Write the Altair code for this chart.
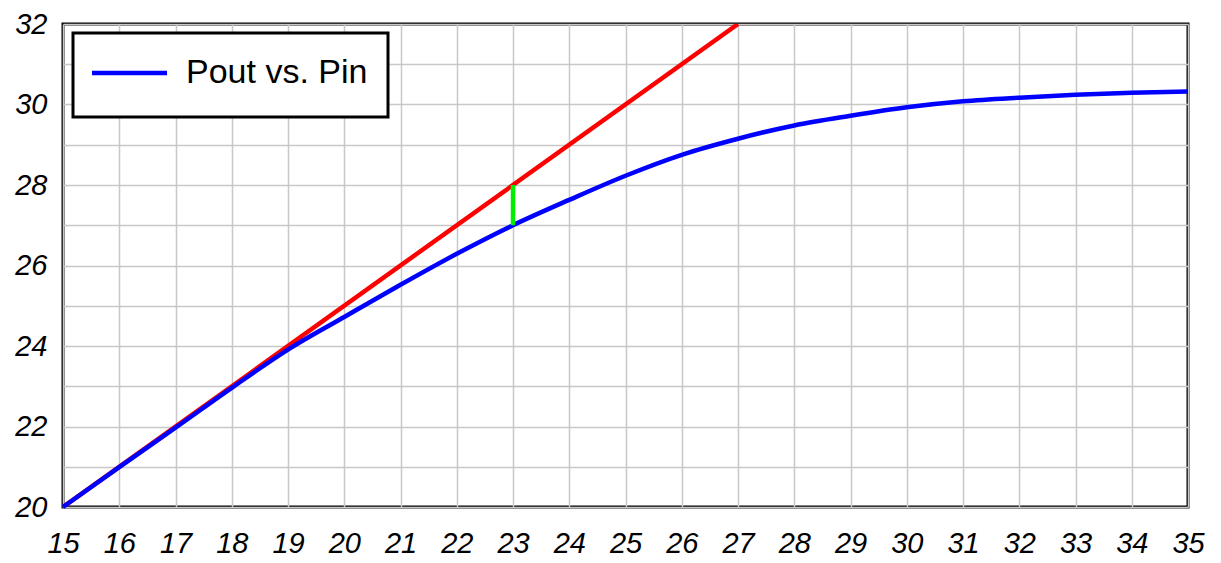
import altair as alt
import pandas as pd

# Measured curve (Pout vs. Pin)
pin = [15, 16, 17, 18, 19, 20, 21, 22, 23, 24, 25, 26, 27, 28, 29, 30, 31, 32, 33, 34, 35]
pout = [20.0, 20.99, 21.97, 22.96, 23.91, 24.72, 25.52, 26.29, 27.0, 27.63, 28.23, 28.75,
        29.15, 29.48, 29.72, 29.93, 30.08, 30.17, 30.24, 30.29, 30.32]

# Ideal linear (small-signal gain) line
lin_pin = [15, 27]
lin_pout = [20, 32]

# 1 dB compression marker
comp_pin = [23, 23]
comp_pout = [27, 28]

legend_label = ["Pout vs. Pin"]

df_curve = pd.DataFrame({"pin": pin, "pout": pout})
df_lin = pd.DataFrame({"pin": lin_pin, "pout": lin_pout})
df_comp = pd.DataFrame({"pin": comp_pin, "pout": comp_pout})
df_leg = pd.DataFrame({"label": legend_label})

FONT = "Liberation Sans"

xscale = alt.Scale(domain=[15, 35], nice=False, zero=False)
yscale = alt.Scale(domain=[20, 32], nice=False, zero=False)

xaxis = alt.Axis(values=list(range(15, 36)), title=None)
yaxis = alt.Axis(values=list(range(20, 33)), title=None,
                 labelExpr="datum.value % 2 == 0 ? datum.label : ''")

x = alt.X("pin:Q", scale=xscale, axis=xaxis)
y = alt.Y("pout:Q", scale=yscale, axis=yaxis)

lin = alt.Chart(df_lin).mark_line(color="#ff0000", strokeWidth=4.5, clip=True).encode(x=x, y=y)
curve = alt.Chart(df_curve).mark_line(color="#0000ff", strokeWidth=4.5, interpolate="monotone").encode(x=x, y=y)
comp = alt.Chart(df_comp).mark_line(color="#00ee00", strokeWidth=4.5).encode(x=x, y=y)

leg_box = alt.Chart(df_leg).mark_rect(fill="white", stroke="black", strokeWidth=3).encode(
    x=alt.value(10), x2=alt.value(325), y=alt.value(9), y2=alt.value(93))
leg_sym = alt.Chart(df_leg).mark_rule(color="#0000ff", strokeWidth=4.5).encode(
    x=alt.value(29), x2=alt.value(104), y=alt.value(49))
leg_txt = alt.Chart(df_leg).mark_text(align="left", baseline="middle", fontSize=34,
                                      font=FONT, color="black").encode(
    x=alt.value(123), y=alt.value(49), text="label:N")

chart = alt.layer(lin, curve, comp, leg_box, leg_sym, leg_txt).properties(
    width=1125, height=483,
    autosize=alt.AutoSizeParams(type="none"),
    padding={"left": 55, "top": 16, "right": 25, "bottom": 56},
    background="white",
).configure_view(
    stroke="black", strokeWidth=3
).configure_axis(
    labelFont=FONT, labelFontSize=29, labelFontStyle="italic", labelColor="black",
    ticks=False, domain=False, grid=True, gridColor="#c8c8c8", gridWidth=1.5,
    labelFlush=False, labelOverlap=False,
).configure_axisX(
    labelPadding=22
).configure_axisY(
    labelPadding=16
)

chart.save("out.html", embed_options={"renderer": "svg", "actions": False})
